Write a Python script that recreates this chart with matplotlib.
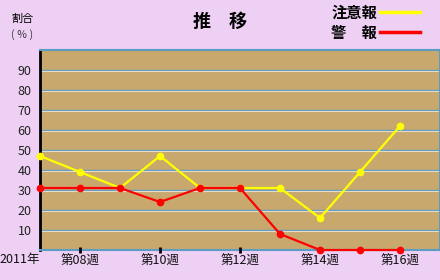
import matplotlib
matplotlib.use("Agg")
import matplotlib.pyplot as plt

plt.rcParams['font.family'] = ['Noto Sans CJK JP', 'DejaVu Sans']

weeks = [7, 8, 9, 10, 11, 12, 13, 14, 15, 16]
chuiho = [47, 39, 31, 47, 31, 31, 31, 16, 39, 62]
keiho = [31, 31, 31, 24, 31, 31, 8, 0, 0, 0]
tick_weeks = [8, 10, 12, 14, 16]
tick_labels = ["第08週", "第10週", "第12週", "第14週", "第16週"]
y_ticks = [10, 20, 30, 40, 50, 60, 70, 80, 90]

fig = plt.figure(figsize=(4.4, 2.8), dpi=100)
fig.patch.set_facecolor("#edd0f3")
ax = fig.add_axes([40/440, 30/280, 400/440, 200/280])
ax.set_facecolor("#c9a86e")
ax.set_xlim(7, 17)
ax.set_ylim(0, 100)

for v in y_ticks:
    ax.axhline(v, color="#5a9cc4", lw=1.0, zorder=1)
    ax.axhline(v - 0.5, color="#e6dcc4", lw=0.8, zorder=1)

ax.plot(weeks, chuiho, color="#ffff00", lw=1.6, marker="o", ms=4.5, zorder=4, clip_on=False)
ax.plot(weeks, keiho, color="#ff0000", lw=1.6, marker="o", ms=4.5, zorder=5, clip_on=False)

ax.set_xticks(tick_weeks)
ax.set_xticklabels(tick_labels, fontsize=9, color="#111111")
ax.set_yticks(y_ticks)
ax.set_yticklabels([str(v) for v in y_ticks], fontsize=9, color="#222222")
ax.tick_params(axis="y", length=0, pad=6)
ax.tick_params(axis="x", length=5, width=2, direction="inout", pad=1, color="black")
ax.xaxis.set_zorder(3)

for s in ["top", "bottom", "right"]:
    ax.spines[s].set_color("#5a9cc4")
    ax.spines[s].set_linewidth(1.5)
ax.spines["left"].set_color("black")
ax.spines["left"].set_linewidth(2)

fig.text(20/440, 1 - 260/280, "2011年", fontsize=9, ha="center", va="center", color="#111111")
fig.text(22/440, 1 - 19/280, "割合", fontsize=8, ha="center", va="center")
fig.text(22/440, 1 - 35/280, "( ％ )", fontsize=7.5, ha="center", va="center", color="#333333")
fig.text(220/440, 1 - 21/280, "推　移", fontsize=13, ha="center", va="center", fontweight="bold")
fig.text(354/440, 1 - 13/280, "注意報", fontsize=11, ha="center", va="center", fontweight="bold")
fig.text(354/440, 1 - 33/280, "警　報", fontsize=11, ha="center", va="center", fontweight="bold")
fig.add_artist(plt.Line2D([380/440, 420/440], [1 - 12/280, 1 - 12/280], color="#ffff00", lw=2.5))
fig.add_artist(plt.Line2D([380/440, 420/440], [1 - 32/280, 1 - 32/280], color="#ff0000", lw=2.5))

fig.savefig("out.png", dpi=100, facecolor=fig.get_facecolor())
